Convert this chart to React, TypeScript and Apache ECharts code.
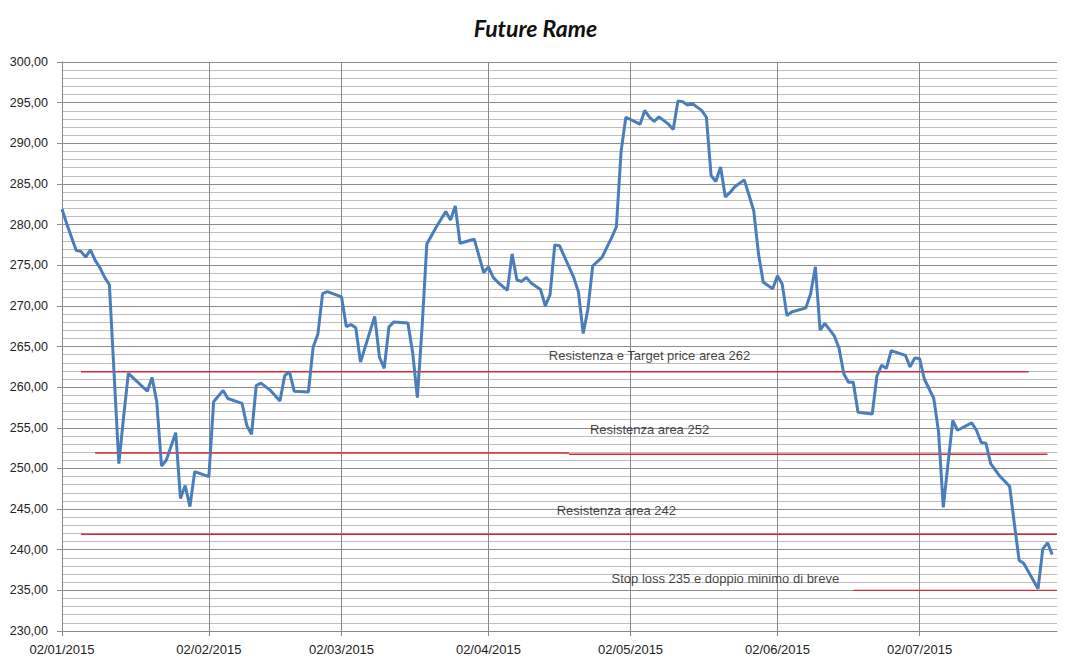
import React, { useEffect, useRef } from "react";
import * as echarts from "echarts";

// ---- data ----
const priceDates: string[] = [
  "2015-01-02", "2015-01-03", "2015-01-05", "2015-01-06", "2015-01-07", "2015-01-08", "2015-01-09", "2015-01-10",
  "2015-01-11", "2015-01-12", "2015-01-14", "2015-01-15", "2015-01-16", "2015-01-18", "2015-01-20", "2015-01-21",
  "2015-01-22", "2015-01-23", "2015-01-24", "2015-01-26", "2015-01-27", "2015-01-28", "2015-01-29", "2015-01-30",
  "2015-02-02", "2015-02-03", "2015-02-05", "2015-02-06", "2015-02-09", "2015-02-10", "2015-02-11", "2015-02-12",
  "2015-02-13", "2015-02-15", "2015-02-17", "2015-02-18", "2015-02-19", "2015-02-20", "2015-02-23", "2015-02-24",
  "2015-02-25", "2015-02-26", "2015-02-27",
  "2015-03-02", "2015-03-03", "2015-03-04", "2015-03-05", "2015-03-06", "2015-03-09", "2015-03-10", "2015-03-11",
  "2015-03-12", "2015-03-13", "2015-03-16", "2015-03-17", "2015-03-18", "2015-03-19", "2015-03-20", "2015-03-22",
  "2015-03-24", "2015-03-25", "2015-03-26", "2015-03-27", "2015-03-30",
  "2015-04-01", "2015-04-02", "2015-04-03", "2015-04-04", "2015-04-06", "2015-04-07", "2015-04-08", "2015-04-09",
  "2015-04-10", "2015-04-11", "2015-04-13", "2015-04-14", "2015-04-15", "2015-04-16", "2015-04-17", "2015-04-20",
  "2015-04-21", "2015-04-22", "2015-04-23", "2015-04-24", "2015-04-26", "2015-04-27", "2015-04-28", "2015-04-29",
  "2015-04-30",
  "2015-05-01", "2015-05-04", "2015-05-05", "2015-05-06", "2015-05-07", "2015-05-08", "2015-05-10", "2015-05-11",
  "2015-05-12", "2015-05-13", "2015-05-14", "2015-05-15", "2015-05-17", "2015-05-18", "2015-05-19", "2015-05-20",
  "2015-05-21", "2015-05-22", "2015-05-23", "2015-05-24", "2015-05-26", "2015-05-28", "2015-05-29", "2015-05-30",
  "2015-06-01", "2015-06-02", "2015-06-03", "2015-06-04", "2015-06-05", "2015-06-08", "2015-06-09", "2015-06-10",
  "2015-06-11", "2015-06-12", "2015-06-14", "2015-06-15", "2015-06-16", "2015-06-17", "2015-06-18", "2015-06-19",
  "2015-06-22", "2015-06-23", "2015-06-24", "2015-06-25", "2015-06-26", "2015-06-29", "2015-06-30",
  "2015-07-01", "2015-07-02", "2015-07-03", "2015-07-05", "2015-07-06", "2015-07-07", "2015-07-08", "2015-07-09",
  "2015-07-10", "2015-07-13", "2015-07-14", "2015-07-15", "2015-07-16", "2015-07-17", "2015-07-19", "2015-07-21",
  "2015-07-22", "2015-07-23", "2015-07-24", "2015-07-27", "2015-07-28", "2015-07-29", "2015-07-30",
];

const priceValues: number[] = [
  281.9, 280.1, 276.8, 276.7, 276.0, 276.9, 275.6, 274.7,
  273.5, 272.6, 250.6, 256.3, 261.7, 260.6, 259.5, 261.2,
  258.2, 250.3, 251.0, 254.4, 246.3, 247.9, 245.3, 249.6,
  249.0, 258.2, 259.6, 258.6, 258.0, 255.3, 254.2, 260.2,
  260.5, 259.6, 258.3, 261.4, 261.9, 259.5, 259.4, 264.9,
  266.5, 271.5, 271.75,
  271.1, 267.45, 267.7, 267.3, 263.1, 268.7, 263.7, 262.3,
  267.4, 268.0, 267.9, 264.3, 258.7, 267.4, 277.6, 279.7,
  281.6, 280.55, 282.3, 277.7, 278.2,
  274.1, 274.8, 273.5, 272.9, 271.9, 276.4, 273.2, 273.0,
  273.5, 272.8, 272.0, 270.0, 271.35, 277.5, 277.4, 273.5,
  271.7, 266.6, 269.6, 274.9, 276.0, 277.2, 278.4, 279.7,
  289.0,
  293.2, 292.35, 294.05, 293.2, 292.7, 293.25, 292.35, 291.7,
  295.2, 295.1, 294.7, 294.9, 294.05, 293.2, 286.0, 285.3,
  287.1, 283.4, 283.95, 284.65, 285.5, 281.7, 276.4, 272.9,
  272.1, 273.7, 272.7, 268.8, 269.25, 269.75, 271.5, 274.8,
  267.0, 267.85, 266.3, 264.8, 261.65, 260.6, 260.6, 256.9,
  256.7, 261.4, 262.7, 262.3, 264.5, 263.9, 262.5,
  263.6, 263.5, 261.0, 258.6, 254.5, 245.2, 250.6, 255.9,
  254.7, 255.6, 254.7, 253.2, 253.1, 250.6, 249.0, 247.8,
  243.2, 238.7, 238.3, 235.2, 240.1, 240.85, 239.4,
];

// horizontal reference levels (red lines)
const levelStart: string[] = ["2015-01-06", "2015-01-09", "2015-04-19", "2015-01-06", "2015-06-18"];
const levelEnd: string[] = ["2015-07-25", "2015-04-19", "2015-07-29", "2015-07-31", "2015-07-31"];
const levelValue: number[] = [261.9, 251.9, 251.75, 241.9, 235];

// annotation texts
const noteTexts: string[] = [
  "Resistenza e Target price area 262",
  "Resistenza area 252",
  "Resistenza area 242",
  "Stop loss 235 e doppio minimo di breve",
];
const noteDates: string[] = ["2015-05-06", "2015-05-06", "2015-04-29", "2015-05-22"];
const noteValues: number[] = [263.9, 254.8, 244.8, 236.4];

// x-axis ticks
const monthTicks: string[] = [
  "2015-01-02", "2015-02-02", "2015-03-02", "2015-04-02", "2015-05-02", "2015-06-02", "2015-07-02",
];
const monthLabels: string[] = [
  "02/01/2015", "02/02/2015", "02/03/2015", "02/04/2015", "02/05/2015", "02/06/2015", "02/07/2015",
];
const axisStart = "2015-01-02";
const axisEnd = "2015-07-31";

const yMin = 230;
const yMax = 300;
const yStep = 5;

function ts(s: string): number {
  const [y, m, d] = s.split("-").map(Number);
  return new Date(y, m - 1, d).getTime();
}

export default function App() {
  const ref = useRef<HTMLDivElement>(null);

  useEffect(() => {
    document.body.style.margin = "0";
    if (!ref.current) return;
    const chart = echarts.init(ref.current, null, { renderer: "svg" });
    const tickTs = monthTicks.map(ts);
    const labelFont = "Liberation Sans";

    const levelSeries = levelValue.map((v, i) => ({
      type: "line",
      name: "level" + i,
      data: [
        [ts(levelStart[i]), v],
        [ts(levelEnd[i]), v],
      ],
      symbol: "none",
      showSymbol: false,
      silent: true,
      lineStyle: { color: "#d42b35", width: 1.4 },
      z: 3,
    }));

    const option: any = {
      animation: false,
      backgroundColor: "#ffffff",
      title: {
        text: "Future Rame",
        left: "center",
        top: 11,
        textStyle: {
          fontFamily: "Lato",
          fontStyle: "italic",
          fontWeight: "bold",
          fontSize: 23,
          color: "#111111",
        },
      },
      grid: { left: 62, right: 14, top: 62, bottom: 35, containLabel: false, outerBoundsMode: "none" },
      xAxis: {
        type: "value",
        min: ts(axisStart),
        max: ts(axisEnd),
        axisLine: { show: true, onZero: false, lineStyle: { color: "#8a8a8a", width: 1 } },
        axisTick: { show: true, length: 5, customValues: tickTs, lineStyle: { color: "#8a8a8a" } },
        axisLabel: {
          customValues: tickTs,
          margin: 12,
          fontFamily: labelFont,
          fontSize: 13,
          color: "#222222",
          hideOverlap: false,
          formatter: (v: number) => {
            const i = tickTs.indexOf(v);
            return i >= 0 ? monthLabels[i] : "";
          },
        },
        splitLine: { show: true, lineStyle: { color: "#8a8a8a", width: 1 } },
      },
      yAxis: {
        type: "value",
        min: yMin,
        max: yMax,
        interval: yStep,
        axisLine: { show: true, lineStyle: { color: "#8a8a8a", width: 1 } },
        axisTick: { show: true, length: 5, lineStyle: { color: "#8a8a8a" } },
        axisLabel: {
          margin: 14,
          fontFamily: labelFont,
          fontSize: 12.5,
          color: "#222222",
          formatter: (v: number) => v.toFixed(2).replace(".", ","),
        },
        splitLine: { show: true, lineStyle: { color: "#8c8c8c", width: 1 } },
        minorTick: { show: false, splitNumber: 5 },
        minorSplitLine: { show: true, lineStyle: { color: "#bdbdbd", width: 1 } },
      },
      series: [
        ...levelSeries,
        {
          type: "line",
          name: "Future Rame",
          data: priceDates.map((d, i) => [ts(d), priceValues[i]]),
          showSymbol: false,
          symbol: "none",
          lineStyle: { color: "#4a7ebb", width: 3 },
          z: 5,
        },
        {
          type: "scatter",
          name: "notes",
          symbolSize: 0,
          silent: true,
          z: 6,
          data: noteTexts.map((t, i) => ({ name: t, value: [ts(noteDates[i]), noteValues[i]] })),
          label: {
            show: true,
            position: "inside",
            formatter: "{b}",
            fontFamily: labelFont,
            fontSize: 13,
            color: "#111111",
          },
        },
      ],
    };

    chart.setOption(option);
    return () => chart.dispose();
  }, []);

  return <div ref={ref} style={{ width: 1071, height: 666 }} />;
}
